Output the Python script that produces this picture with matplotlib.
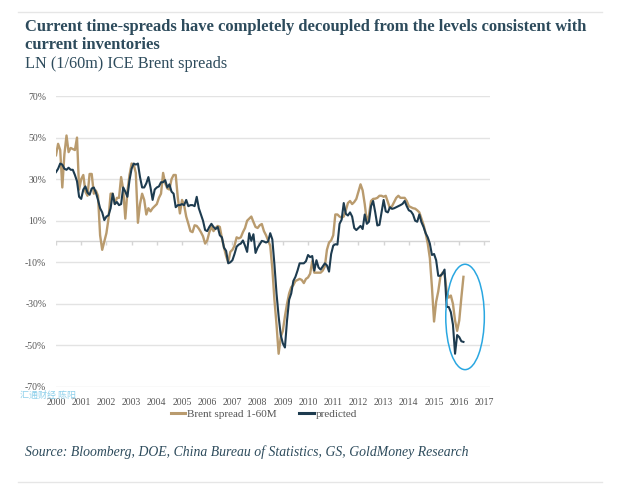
import numpy as np
import matplotlib
matplotlib.use("Agg")
import matplotlib.pyplot as plt
from matplotlib.patches import Ellipse
from matplotlib.lines import Line2D

# Monthly data, Jan 2000 .. Mar 2016 (values in %)
brent = [
    41.5, 47, 44, 26, 42, 51, 43, 45, 44.5, 44, 50, 25,          # 2000
    30, 32, 24, 22, 32.5, 32.5, 23, 24.5, 22, 3, -4, 0,          # 2001
    4, 11, 23, 23, 18, 21, 21, 31, 25, 11, 24, 32,               # 2002
    37.5, 37, 33, 9, 18, 23, 20, 13, 16, 14.5, 16, 17,           # 2003
    18, 21, 23, 33, 28, 25.5, 25, 30, 32, 32, 21, 13.5,          # 2004
    20, 17.5, 12, 8.6, 5, 4.5, 7.8, 7.5, 6.2, 4.5, 2.5, -1,      # 2005
    0.5, 4.5, 7, 5, 6.5, 7.5, 7, 1.5, -3, -7, -10, -5,           # 2006
    -4, -2, 2, 1.5, 2, 4.5, 6.5, 10, 11, 12, 9.4, 7,             # 2007
    6.5, 7.8, 8.4, 5, 3, 0.5, -2, -13, -28, -40, -54, -46,       # 2008
    -43, -36, -30, -25, -22, -21, -19, -18.5, -18, -18.5, -20, -18,  # 2009
    -17.3, -15.5, -9.5, -15, -15, -15, -15, -14, -12, -4, -0.5, 0.5,  # 2010
    3, 13, 13, 12, 11.5, 12, 15, 18.5, 19.5, 18, 19, 20.5,       # 2011
    24, 27.5, 24.6, 18, 9.5, 12.5, 19.5, 20.5, 20.6, 21, 22, 22, # 2012
    21.5, 22, 19, 16, 17, 19, 21, 22, 21, 21, 21, 19.5,          # 2013
    17, 16.5, 16, 15.8, 15, 14, 11, 8, 4, -1, -8, -22,           # 2014
    -38.5, -29, -24, -17, -15, -15.5, -24, -27, -26, -30, -38, -43,  # 2015
    -38, -27, -17,                                               # 2016
]
predicted = [
    33.4, 35, 37.5, 37, 35, 34.5, 35.5, 34.5, 34.5, 32, 29, 21.5,  # 2000
    20.5, 25, 26.5, 23.5, 22.5, 25.5, 26, 23.5, 20, 16, 14, 10.3,  # 2001
    12, 12.6, 16, 23, 18, 19, 17.5, 18, 26, 24, 21.5, 29.5,        # 2002
    35, 37.5, 37, 37.5, 31, 26, 26, 28, 31, 26, 20, 25,            # 2003
    26, 26.5, 28.5, 28.5, 29.5, 26, 27.5, 24, 23, 16.5, 17.5, 17.5,  # 2004
    18, 17.5, 20, 17, 17.5, 17.5, 17, 21.5, 16, 13, 10, 5.5,       # 2005
    5, 7, 8.5, 7, 6, 7, 3, 2, -3, -4.5, -10.5, -10,                # 2006
    -9, -6, -2.5, -1.5, -1, 0.5, -2, -5, 4, 0.3, 3.5, -5.5,        # 2007
    -3, -1.3, 0.3, 0, -0.5, 0, 4, 1, -11, -25, -36, -45,           # 2008
    -49, -51, -38, -28, -25, -19, -17, -14, -10.5, -10.5, -10.5, -9.5,  # 2009
    -6.5, -7.5, -7, -14, -9, -12.5, -13.5, -12, -10.5, -11.5, -14.5, -6,  # 2010
    -2, -1.3, -1.5, 8.5, 10.5, 18.5, 13.3, 12.5, 14, 12, 6.5, 5.5,  # 2011
    6.5, 7.5, 6, 13, 8.5, 9.5, 17, 19.5, 14, 7.7, 8, 14,           # 2012
    20, 14.5, 14, 16.5, 15.7, 16, 16.5, 17, 17.5, 18.1, 19.5, 17,  # 2013
    15, 14.5, 13, 10, 9.5, 13, 9.3, 7, 4, 2, -1, -6.5,             # 2014
    -6, -9, -16.5, -16.5, -15.5, -13.5, -31.5, -31.5, -34, -40, -54, -45,  # 2015
    -46, -48, -48.3,                                               # 2016
]
years = list(range(2000, 2018))
yticks = [70, 50, 30, 10, -10, -30, -50, -70]

TAN = "#B99B6E"
NAVY = "#1D3B4F"
TITLE = "#2D4B5C"
GRID = "#E3E3E3"
SERIF = ["Liberation Serif", "DejaVu Serif"]

plt.rcParams["font.family"] = SERIF

fig = plt.figure(figsize=(6.3, 4.9), dpi=100)
W, H = 630, 490
ax = fig.add_axes([56 / W, 1 - 387 / H, (490 - 56) / W, (387 - 96) / H])

x = 2000 + np.arange(len(brent)) / 12.0
xp = 2000 + np.arange(len(predicted)) / 12.0

ax.set_xlim(2000, 2017.22)
ax.set_ylim(-70, 70)
for s in ax.spines.values():
    s.set_visible(False)

ax.set_yticks(yticks)
ax.set_yticklabels([f"{v}%" for v in yticks])
ax.grid(axis="y", color=GRID, linewidth=1.0)
ax.set_axisbelow(True)
ax.set_xticks(years)
ax.set_xticklabels([str(y) for y in years])
ax.tick_params(axis="both", length=0, labelsize=7, labelcolor="#555555")
ax.tick_params(axis="y", pad=7)
ax.tick_params(axis="x", pad=8)

# zero line with small tick marks
ax.axhline(0, color="#D5D5D5", linewidth=1.0, zorder=1)
ax.vlines(years, -1.8, 0, color="#D5D5D5", linewidth=1.0, zorder=1)

ax.plot(x, brent, color=TAN, linewidth=1.7, zorder=3, solid_joinstyle="round")
ax.plot(xp, predicted, color=NAVY, linewidth=1.5, zorder=4, solid_joinstyle="round")

ax.add_patch(Ellipse((2016.23, -36.3), 1.53, 50.7, fill=False,
                     edgecolor="#2AA7E1", linewidth=1.1, zorder=5))

handles = [Line2D([0], [0], color=TAN, linewidth=2.2),
           Line2D([0], [0], color=NAVY, linewidth=2.2)]
fig.legend(handles, ["Brent spread 1-60M", "predicted"], loc="center",
           bbox_to_anchor=(264 / W, 1 - 414 / H), ncol=2, frameon=False,
           fontsize=8, handlelength=1.3, handletextpad=0.2, columnspacing=2.0,
           labelcolor="#555555")

# Titles
fig.text(25 / W, 1 - 27 / H, "Current time-spreads have completely decoupled from the levels consistent with",
         fontsize=11.9, fontweight="bold", color=TITLE, va="center", ha="left")
fig.text(25 / W, 1 - 45 / H, "current inventories",
         fontsize=11.9, fontweight="bold", color=TITLE, va="center", ha="left")
fig.text(25 / W, 1 - 64 / H, "LN (1/60m) ICE Brent spreads",
         fontsize=11.7, color=TITLE, va="center", ha="left")
fig.text(25 / W, 1 - 452 / H,
         "Source: Bloomberg, DOE, China Bureau of Statistics, GS, GoldMoney Research",
         fontsize=9.9, style="italic", color=TITLE, va="center", ha="left")

# watermark
fig.text(20 / W, 1 - 395 / H, "汇通财经 陈阳", fontsize=6.5, color="#8CCFEA",
         family=["Noto Sans CJK SC", "DejaVu Sans"], va="center", ha="left")

# top and bottom rules
fig.add_artist(Line2D([18 / W, 602 / W], [1 - 12 / H, 1 - 12 / H], color="#E6E6E6", linewidth=1.0))
fig.add_artist(Line2D([18 / W, 602 / W], [1 - 482 / H, 1 - 482 / H], color="#E6E6E6", linewidth=1.0))

fig.savefig("out.png", dpi=100, facecolor="white")
